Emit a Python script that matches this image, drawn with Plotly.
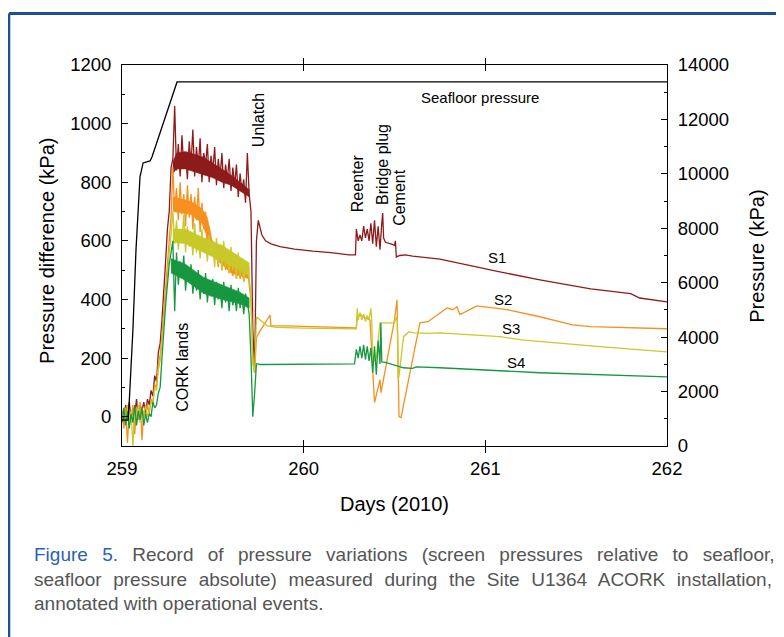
import plotly.graph_objects as go

COLOR_S1 = "#8e1b1b"
COLOR_S2 = "#f7901e"
COLOR_S3 = "#c8c92a"
COLOR_S4 = "#17973f"
COLOR_SEAFLOOR = "#000000"
COLOR_FRAME = "#1c4e9b"
COLOR_FIG = "#2c62b0"
COLOR_CAPTION = "#555555"

FONT_FAMILY = "Liberation Sans, Arial, Helvetica, sans-serif"
FONT_SIZE = 18.5

# sample times (days) for the noisy part of the record, up to just after unlatch
days_noisy = [259.00, 259.01, 259.02, 259.03, 259.04, 259.05, 259.06, 259.07, 259.08, 259.09,
              259.10, 259.11, 259.12, 259.13, 259.14, 259.15, 259.16, 259.17, 259.18, 259.19,
              259.20, 259.21, 259.22, 259.23, 259.24, 259.25, 259.26, 259.27, 259.28, 259.29,
              259.30, 259.31, 259.32, 259.33, 259.34, 259.35, 259.36, 259.37, 259.38, 259.39,
              259.40, 259.41, 259.42, 259.43, 259.44, 259.45, 259.46, 259.47, 259.48, 259.49,
              259.50, 259.51, 259.52, 259.53, 259.54, 259.55, 259.56, 259.57, 259.58, 259.59,
              259.60, 259.61, 259.62, 259.63, 259.64, 259.65, 259.66, 259.67, 259.68, 259.69,
              259.70, 259.71, 259.72, 259.73, 259.74, 259.75, 259.76]

s1_noisy = [20, -20, 40, 0, 50, -10, 30, 10, 60, -10, 40, 20, 50, 10, 60,
            40, 90, 70, 140, 120, 220, 250, 330, 420, 530, 640, 700, 850, 880,
            1060, 840, 930, 820, 960, 850, 900, 810, 940, 860, 980, 820,
            920, 850, 950, 800, 900, 860, 930, 800, 890, 840,
            920, 790, 880, 820, 900, 780, 860, 810, 880, 770,
            850, 790, 860, 750, 830, 770, 810, 730, 900, 760,
            700, 300, 150, 600, 670, 640]
s2_noisy = [10, -40, 30, -90, 20, -20, 40, -60, 30, -10, 50, -80, 20, 0, 40,
            10, 60, 50, 110, 100, 180, 210, 280, 360, 450, 540, 600, 680,
            850, 700, 780, 670, 800, 690, 760, 650, 790, 680, 760, 640, 750,
            670, 780, 630, 730, 640, 700, 580, 650, 560, 600, 540, 560,
            510, 570, 500, 560, 500, 550, 490, 540, 480, 530, 470, 520,
            470, 510, 460, 500, 520, 450, 400, 200, 150, 270, 282, 293]
s3_noisy = [0, 30, -20, 40, -10, 20, -100, 30, 0, 40, -20, 30, 10, 40, 0,
            20, 50, 40, 100, 90, 160, 190, 260, 340, 420, 500, 560, 620,
            700, 590, 670, 570, 640, 600, 690, 560, 650, 580, 630, 550, 660,
            560, 620, 540, 640, 560, 610, 530, 620, 550, 590, 510, 610,
            520, 580, 500, 600, 510, 570, 490, 580, 500, 550, 470, 560,
            480, 540, 460, 530, 520, 470, 420, 180, 150, 340, 335, 330]
s4_noisy = [-20, 30, -30, 20, -40, 10, -20, 40, -30, 20, -10, 30, -30, 10, -20,
            10, 0, 50, 30, 40, 80, 100, 200, 300, 380, 450, 520, 560,
            600, 360, 560, 450, 530, 480, 550, 430, 510, 460, 520, 420, 490,
            430, 500, 400, 470, 420, 490, 390, 460, 410, 470, 380, 460,
            400, 440, 370, 460, 390, 430, 360, 450, 380, 420, 360, 440,
            370, 410, 350, 420, 390, 350, 200, 0, 80, 180, 180, 178]

# core of the dense noise band while the CORK sits on the seafloor
s1_band_days = [259.28, 259.30, 259.35, 259.40, 259.45, 259.50, 259.55, 259.60, 259.65, 259.70]
s1_band_top = [870, 900, 905, 895, 885, 865, 845, 825, 800, 775]
s1_band_bottom = [830, 845, 845, 835, 825, 815, 800, 790, 770, 750]
s2_band_days = [259.28, 259.32, 259.38, 259.44, 259.47, 259.50, 259.60, 259.70]
s2_band_top = [750, 745, 735, 710, 680, 590, 540, 510]
s2_band_bottom = [700, 695, 690, 660, 610, 550, 490, 470]
s3_band_days = [259.28, 259.35, 259.45, 259.55, 259.65, 259.70]
s3_band_top = [640, 640, 610, 585, 545, 525]
s3_band_bottom = [595, 590, 560, 530, 500, 480]
s4_band_days = [259.27, 259.35, 259.45, 259.55, 259.65, 259.70]
s4_band_top = [540, 520, 475, 450, 425, 405]
s4_band_bottom = [490, 465, 420, 400, 385, 370]

# quieter part of the record, after unlatch
s1_days = [259.77, 259.79, 259.82, 259.87, 259.95, 260.05, 260.15, 260.25, 260.285,
           260.29, 260.30, 260.31, 260.32, 260.33, 260.34, 260.35, 260.36, 260.37, 260.38,
           260.39, 260.40, 260.41, 260.42, 260.43, 260.435, 260.44, 260.45, 260.48, 260.50,
           260.505, 260.51, 260.53, 260.56, 260.60, 260.75, 261.08, 261.30, 261.58, 261.74,
           261.80, 261.85, 262.00]
s1_after = [620, 600, 590, 580, 572, 565, 560, 552, 552,
            640, 600, 620, 600, 650, 610, 640, 600, 660, 590,
            670, 580, 650, 570, 660, 695, 610, 595, 590, 585,
            600, 545, 550, 552, 548, 538, 494, 467, 436, 423,
            420, 405, 392]

s2_days = [259.815, 259.82, 259.90, 260.00, 260.10, 260.20, 260.29, 260.295, 260.31,
           260.33, 260.365, 260.39, 260.42, 260.426, 260.50, 260.514, 260.525, 260.536,
           260.64, 260.684, 260.789, 260.82, 260.844, 260.86, 260.954, 261.12, 261.30,
           261.48, 261.58, 262.00]
s2_after = [347, 310, 310, 308, 306, 305, 303, 340, 350,
            340, 330, 48, 126, 82, 330, 399, 0, -3,
            320, 324, 371, 365, 375, 348, 378, 365, 341,
            313, 307, 300]

s3_days = [259.78, 259.80, 259.85, 260.00, 260.28, 260.29, 260.295, 260.30, 260.31,
           260.32, 260.33, 260.34, 260.35, 260.36, 260.37, 260.375, 260.38, 260.40,
           260.42, 260.50, 260.51, 260.515, 260.52, 260.525, 260.55, 260.58, 260.61,
           260.70, 260.75, 261.08, 261.20, 261.50, 261.63, 262.00]
s3_after = [320, 310, 305, 302, 300, 300, 370, 330, 355,
            330, 350, 325, 345, 330, 370, 330, 184, 200,
            320, 320, 340, 330, 126, 140, 273, 290, 286,
            284, 286, 273, 262, 245, 239, 221]

s4_days = [259.78, 260.00, 260.28, 260.29, 260.30, 260.31, 260.32, 260.33, 260.34,
           260.35, 260.36, 260.37, 260.38, 260.39, 260.40, 260.41, 260.42, 260.425,
           260.43, 260.45, 260.50, 260.55, 260.60, 260.62, 260.75, 261.30, 262.00]
s4_after = [178, 178, 180, 230, 200, 240, 200, 245, 195,
            240, 190, 235, 150, 240, 143, 260, 180, 320,
            187, 185, 177, 167, 165, 170, 167, 150, 136]

# absolute seafloor pressure (right axis)
seafloor_days = [259.00, 259.033, 259.039, 259.06, 259.077, 259.099, 259.116, 259.154,
                 259.165, 259.303, 262.00]
seafloor_kpa = [950, 950, 1500, 4263, 7203, 9886, 10400, 10474, 10620, 13377, 13377]

series = [("S1", s1_noisy, s1_days, s1_after, s1_band_days, s1_band_top, s1_band_bottom, COLOR_S1),
          ("S2", s2_noisy, s2_days, s2_after, s2_band_days, s2_band_top, s2_band_bottom, COLOR_S2),
          ("S3", s3_noisy, s3_days, s3_after, s3_band_days, s3_band_top, s3_band_bottom, COLOR_S3),
          ("S4", s4_noisy, s4_days, s4_after, s4_band_days, s4_band_top, s4_band_bottom, COLOR_S4)]

fig = go.Figure()

for name, noisy, days_after, after, band_days, band_top, band_bottom, color in series:
    #filled core of the noise band
    fig.add_trace(go.Scatter(x = band_days + band_days[::-1],
                             y = band_top + band_bottom[::-1],
                             mode = "lines",
                             fill = "toself",
                             fillcolor = color,
                             line = dict(color = color, width = 0.5),
                             hoverinfo = "skip"))
    #record
    fig.add_trace(go.Scatter(x = days_noisy + days_after,
                             y = noisy + after,
                             mode = "lines",
                             name = name,
                             line = dict(color = color, width = 1.3)))

fig.add_trace(go.Scatter(x = seafloor_days,
                         y = seafloor_kpa,
                         mode = "lines",
                         name = "Seafloor pressure",
                         yaxis = "y2",
                         line = dict(color = COLOR_SEAFLOOR, width = 1.3)))

axis_common = dict(showline = True,
                   linecolor = "black",
                   linewidth = 1,
                   ticks = "inside",
                   ticklen = 6,
                   tickcolor = "black",
                   showgrid = False,
                   zeroline = False,
                   ticklabelstandoff = 6,
                   tickfont = dict(size = FONT_SIZE, color = "black"))

# the page adds an 8px body margin, so the figure is 8px smaller than the window
fig.update_layout(width = 776,
                  height = 629,
                  margin = dict(l = 114, r = 117, t = 57, b = 191),
                  showlegend = False,
                  plot_bgcolor = "white",
                  paper_bgcolor = "white",
                  font = dict(family = FONT_FAMILY, size = FONT_SIZE, color = "black"),
                  xaxis = dict(range = [259, 262],
                               tickvals = [259, 260, 261, 262],
                               mirror = "allticks",
                               **axis_common),
                  yaxis = dict(range = [-100, 1200],
                               tickvals = [0, 200, 400, 600, 800, 1000, 1200],
                               minor = dict(ticks = "inside", dtick = 100, tick0 = 0, ticklen = 3, tickcolor = "black"),
                               **axis_common),
                  yaxis2 = dict(range = [0, 14000],
                                tickvals = [0, 2000, 4000, 6000, 8000, 10000, 12000, 14000],
                                tickformat = "d",
                                minor = dict(ticks = "inside", dtick = 1000, tick0 = 0, ticklen = 3, tickcolor = "black"),
                                overlaying = "y",
                                side = "right",
                                **axis_common))

# axis titles
fig.add_annotation(text = "Pressure difference (kPa)", xref = "paper", yref = "paper",
                   x = -0.1376, y = 0.512, xanchor = "center", yanchor = "middle",
                   textangle = -90, showarrow = False, font = dict(size = 20))
fig.add_annotation(text = "Pressure (kPa)", xref = "paper", yref = "paper",
                   x = 1.165, y = 0.499, xanchor = "center", yanchor = "middle",
                   textangle = -90, showarrow = False, font = dict(size = 20))
fig.add_annotation(text = "Days (2010)", xref = "paper", yref = "paper",
                   x = 0.5, y = -0.152, xanchor = "center", yanchor = "middle",
                   showarrow = False, font = dict(size = 20))

# operational events
events = [("CORK lands", 259.336, 167),
          ("Unlatch", 259.749, 1012),
          ("Reenter", 260.294, 797),
          ("Bridge plug", 260.437, 859),
          ("Cement", 260.53, 750)]
for text, day, kpa in events:
    fig.add_annotation(text = text, x = day, y = kpa, textangle = -90,
                       showarrow = False, font = dict(size = 16))

fig.add_annotation(text = "Seafloor pressure", x = 260.97, y = 1090,
                   showarrow = False, font = dict(size = 15))

labels = [("S1", 261.064, 542), ("S2", 261.097, 399), ("S3", 261.141, 300), ("S4", 261.169, 184)]
for text, day, kpa in labels:
    fig.add_annotation(text = text, x = day, y = kpa, showarrow = False, font = dict(size = 15))

# caption, first two lines justified to the full width
caption = ["<span style='color:" + COLOR_FIG + ";word-spacing:9px'>Figure 5.</span>"
           "<span style='word-spacing:9px'> Record of pressure variations (screen pressures relative to seafloor,</span>",
           "<span style='word-spacing:6.3px'>seafloor pressure absolute) measured during the Site U1364 ACORK installation,</span>",
           "annotated with operational events."]
for i, line in enumerate(caption):
    fig.add_annotation(text = line, xref = "paper", yref = "paper",
                       x = -0.165, y = -0.286 - i * 0.0643,
                       xanchor = "left", yanchor = "middle", align = "left",
                       showarrow = False,
                       font = dict(size = 19, color = COLOR_CAPTION))

# blue frame, top and left
fig.add_shape(type = "line", xref = "paper", yref = "paper",
              x0 = -0.2073, x1 = 1.22, y0 = 1.1352, y1 = 1.1352,
              line = dict(color = COLOR_FRAME, width = 3))
fig.add_shape(type = "line", xref = "paper", yref = "paper",
              x0 = -0.2073, x1 = -0.2073, y0 = 1.1352, y1 = -0.52,
              line = dict(color = COLOR_FRAME, width = 2.5))

fig.write_html("out.html")
